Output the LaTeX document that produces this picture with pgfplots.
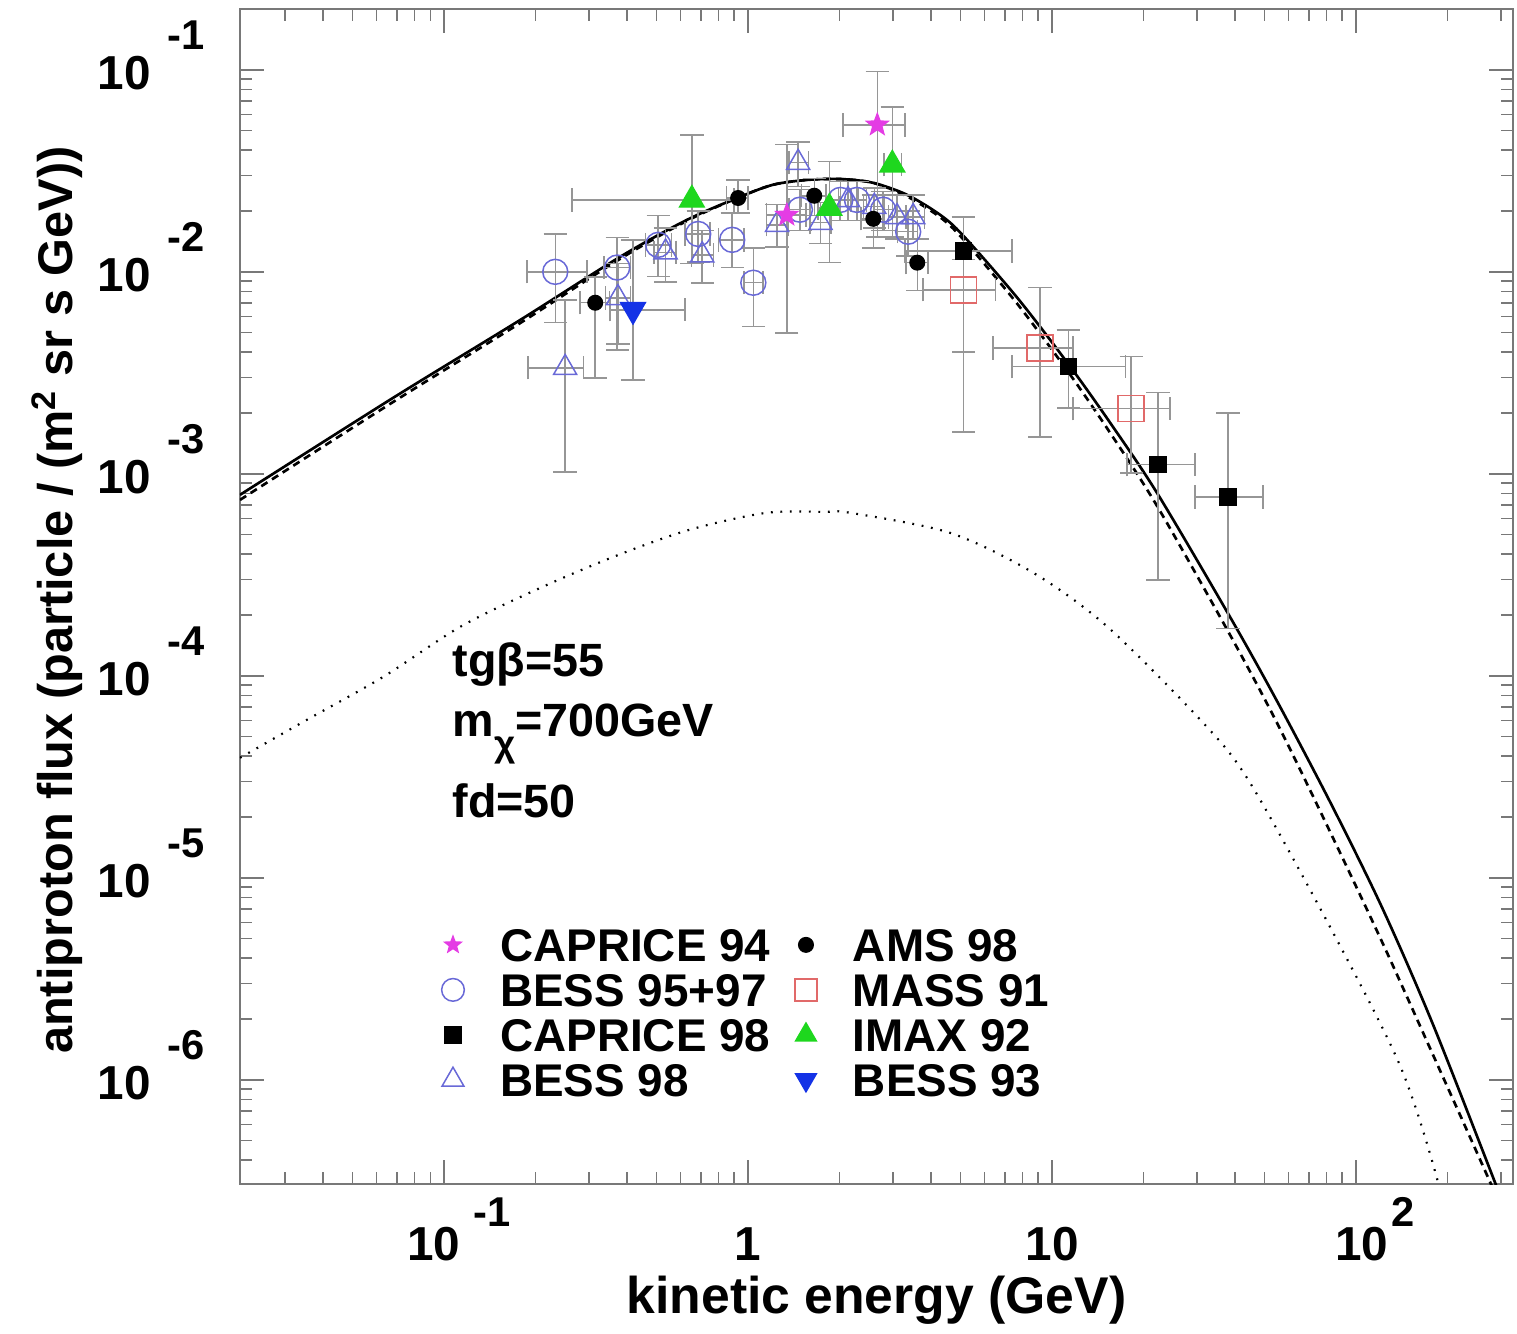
\documentclass[border=0pt]{standalone}
\usepackage{pgfplots}
\pgfplotsset{compat=1.18}
\usepackage{pgfplotstable}
\usepackage{fontspec}
\setmainfont{Liberation Sans}

\definecolor{cmag}{RGB}{228,60,228}
\definecolor{cbess}{RGB}{105,105,215}
\definecolor{cmass}{RGB}{225,105,105}
\definecolor{cgreen}{RGB}{30,215,30}
\definecolor{cblue}{RGB}{20,50,230}
\definecolor{cerr}{RGB}{150,150,150}
\definecolor{cframe}{RGB}{120,120,120}

\pgfdeclareplotmark{fstar}{%
\pgfpathmoveto{\pgfpointpolar{90}{1\pgfplotmarksize}}%
\pgfpathlineto{\pgfpointpolar{126}{0.42\pgfplotmarksize}}%
\pgfpathlineto{\pgfpointpolar{162}{1\pgfplotmarksize}}%
\pgfpathlineto{\pgfpointpolar{198}{0.42\pgfplotmarksize}}%
\pgfpathlineto{\pgfpointpolar{234}{1\pgfplotmarksize}}%
\pgfpathlineto{\pgfpointpolar{270}{0.42\pgfplotmarksize}}%
\pgfpathlineto{\pgfpointpolar{306}{1\pgfplotmarksize}}%
\pgfpathlineto{\pgfpointpolar{342}{0.42\pgfplotmarksize}}%
\pgfpathlineto{\pgfpointpolar{18}{1\pgfplotmarksize}}%
\pgfpathlineto{\pgfpointpolar{54}{0.42\pgfplotmarksize}}%
\pgfpathclose
\pgfusepathqfillstroke}

\newcommand\ylab[1]{\textbf{10}\hspace{5pt}\raisebox{12pt}{\fontsize{12.5}{12.5}\selectfont\textbf{#1}}}
\newcommand\xlab[1]{\hspace{9pt}\textbf{10}\hspace{4pt}\raisebox{10pt}{\fontsize{12.5}{12.5}\selectfont\textbf{#1}}}
\newcommand\xlabb[1]{\hspace{11.3pt}\textbf{10}\hspace{1pt}\raisebox{10pt}{\fontsize{12.5}{12.5}\selectfont\textbf{#1}}}

% curves
\pgfplotstableread{
x y
0.0213 7.87e-4
0.068 2.38e-3
0.178 5.78e-3
0.379 0.01186
0.630 0.0181
0.94 0.0235
1.21 0.0270
1.56 0.0285
2.01 0.0288
2.577 0.02758
3.334 0.02405
4.281 0.01915
5.096 0.01512
7.672 7.455e-3
11.29 3.504e-3
15.52 1.789e-3
22.33 7.87e-4
39.39 1.840e-4
56.23 7.02e-5
84.0 2.22e-5
122.7 6.94e-6
179.2 1.872e-6
290.9 2.92e-7
328.4 1.83e-7
}\tsolid
\pgfplotstableread{
x y
0.0213 7.43e-4
0.068 2.27e-3
0.178 5.58e-3
0.379 0.01159
0.630 0.0179
0.94 0.0235
1.21 0.0270
1.56 0.0285
2.01 0.0288
2.577 0.02758
3.334 0.02361
4.281 0.01863
5.096 0.01450
7.672 6.96e-3
11.29 3.196e-3
15.52 1.594e-3
22.33 6.78e-4
39.39 1.496e-4
56.23 5.45e-5
84.0 1.572e-5
122.7 4.69e-6
179.2 1.325e-6
290.9 2.60e-7
328.4 1.63e-7
}\tdashed
\pgfplotstableread{
x y
0.0213 3.93e-5
0.0353 6.05e-5
0.063 9.88e-5
0.113 1.75e-4
0.201 2.67e-4
0.360 3.88e-4
0.640 5.28e-4
1.146 6.41e-4
1.77 6.48e-4
2.17 6.41e-4
4.62 5.1e-4
8.66 3.24e-4
15.2 1.75e-4
31.4 5.85e-5
44.8 2.95e-5
84 5.35e-6
140 1.16e-6
185 3.2e-7
200 1.6e-7
}\tdotted

% data: x y xlo xhi ylo yhi
\pgfplotstableread{
x y xlo xhi ylo yhi
1.34 0.0191 1.15 1.55 0.00499 0.0426
2.66 0.0534 2.05 3.28 0.0149 0.098
}\tcapnf
\pgfplotstableread{
x y xlo xhi ylo yhi
0.232 0.0100 0.1875 0.295 0.0056 0.0154
0.371 0.0105 0.335 0.41 0.0041 0.0148
0.506 0.0136 0.46 0.56 0.0095 0.0190
0.685 0.0154 0.62 0.75 0.0112 0.0200
0.886 0.0144 0.80 0.97 0.0105 0.0195
1.04 0.00883 0.97 1.12 0.00535 0.0131
1.48 0.0203 1.36 1.60 0.0160 0.0255
2.01 0.0227 1.85 2.18 0.0180 0.0280
2.28 0.0227 2.18 2.45 0.0180 0.0280
2.78 0.0203 2.60 2.98 0.0160 0.0250
3.36 0.0158 3.10 3.60 0.0120 0.0200
}\tbessnf
\pgfplotstableread{
x y xlo xhi ylo yhi
5.10 0.0127 3.28 7.39 0.00161 0.0187
11.3 0.00339 7.39 17.4 0.00212 0.00516
22.3 0.00111 17.6 29.5 0.000298 0.00252
37.9 0.000769 29.5 49.4 0.000172 0.0020
}\tcapne
\pgfplotstableread{
x y xlo xhi ylo yhi
0.250 0.00335 0.189 0.287 0.00102 0.00727
0.373 0.00743 0.34 0.41 0.0044 0.0110
0.535 0.0125 0.49 0.58 0.0089 0.0165
0.706 0.0121 0.65 0.77 0.0088 0.0160
1.245 0.0171 1.15 1.35 0.0133 0.0215
1.46 0.0347 1.36 1.58 0.0265 0.0440
1.73 0.0175 1.60 1.87 0.0138 0.0220
2.13 0.0227 1.98 2.30 0.0180 0.0280
2.60 0.0210 2.40 2.80 0.0165 0.0260
3.09 0.0187 2.90 3.30 0.0145 0.0240
3.49 0.0187 3.30 3.80 0.0145 0.0240
}\tbessne
\pgfplotstableread{
x y xlo xhi ylo yhi
0.314 0.00703 0.28 0.35 0.00298 0.00944
0.927 0.0232 0.85 1.00 0.0195 0.0285
1.65 0.0238 1.50 1.80 0.0190 0.0290
2.58 0.0183 2.35 2.80 0.0131 0.0240
3.60 0.0111 3.30 3.90 0.0081 0.0145
}\tams
\pgfplotstableread{
x y xlo xhi ylo yhi
5.10 0.00815 3.76 6.50 0.0040 0.0115
9.13 0.0042 6.40 11.7 0.00152 0.00838
18.2 0.0021 11.7 24.4 0.00101 0.0038
}\tmass
\pgfplotstableread{
x y xlo xhi ylo yhi
0.653 0.0227 0.263 0.90 0.011 0.0477
1.85 0.0207 1.70 2.00 0.0111 0.0351
2.98 0.0339 2.80 3.20 0.0149 0.0656
}\timax
\pgfplotstableread{
x y xlo xhi ylo yhi
0.418 0.00649 0.351 0.62 0.00292 0.01439
}\tbesstt

\pgfplotsset{
  errs/.style={
    error bars/.cd, x dir=both, y dir=both, x explicit, y explicit,
    error bar style={cerr, line width=0.45pt},
    error mark options={rotate=90, cerr, mark size=3.5pt, line width=0.45pt}},
}
\newcommand\dataplot[2]{%
  \addplot[forget plot, only marks, #1, errs]
  table[x=x, y=y,
    x error plus expr=\thisrow{xhi}-\thisrow{x},
    x error minus expr=\thisrow{x}-\thisrow{xlo},
    y error plus expr=\thisrow{yhi}-\thisrow{y},
    y error minus expr=\thisrow{y}-\thisrow{ylo}] {#2};}

\begin{document}
\begin{tikzpicture}
\begin{axis}[
  scale only axis, width=381.9pt, height=352.5pt,
  xmode=log, ymode=log,
  xmin=0.0213, xmax=328, ymin=3.05e-7, ymax=0.2,
  axis line style={cframe, line width=0.5pt},
  tick style={cframe, line width=0.45pt},
  tick align=inside,
  major tick length=7.3pt, minor tick length=3.5pt,
  xtick={0.1,1,10,100},
  xticklabels={\xlab{-1},\textbf{1},\textbf{10},\xlabb{2}},
  minor xtick={0.03,0.04,0.05,0.06,0.07,0.08,0.09,0.2,0.3,0.4,0.5,0.6,0.7,0.8,0.9,2,3,4,5,6,7,8,9,20,30,40,50,60,70,80,90,200,300},
  ytick={1e-6,1e-5,1e-4,1e-3,1e-2,1e-1},
  yticklabels={\ylab{-6},\ylab{-5},\ylab{-4},\ylab{-3},\ylab{-2},\ylab{-1}},
  minor ytick={4e-7,5e-7,6e-7,7e-7,8e-7,9e-7,2e-6,3e-6,4e-6,5e-6,6e-6,7e-6,8e-6,9e-6,2e-5,3e-5,4e-5,5e-5,6e-5,7e-5,8e-5,9e-5,2e-4,3e-4,4e-4,5e-4,6e-4,7e-4,8e-4,9e-4,2e-3,3e-3,4e-3,5e-3,6e-3,7e-3,8e-3,9e-3,2e-2,3e-2,4e-2,5e-2,6e-2,7e-2,8e-2,9e-2},
  ticklabel style={font=\fontsize{14.3}{14.3}\selectfont\bfseries},
  xticklabel style={anchor=base, inner sep=0pt, yshift=-22.8pt},
  yticklabel style={anchor=base east, inner sep=0pt, xshift=-10.5pt, yshift=-6pt},
  xlabel={kinetic energy (GeV)},
  ylabel={antiproton flux (particle / (m\textsuperscript{2} sr s GeV))},
  xlabel style={font=\fontsize{15.5}{15.5}\selectfont\bfseries, at={(axis description cs:0.5,-0.1098)}, anchor=base},
  ylabel style={font=\fontsize{14.6}{14.6}\selectfont\bfseries, at={(axis description cs:-0.1312,0.497)}, anchor=base},
  legend columns=2,
  legend cell align=left,
  legend style={at={(axis description cs:0.1579,0.2180)}, anchor=north west,
    draw=none, fill=none, inner sep=0pt, row sep=3.7pt,
    font=\fontsize{13.75}{13.75}\selectfont\bfseries,
    nodes={inner sep=0pt, text height=9.8pt, text depth=0pt},
    /tikz/every odd column/.append style={column sep=10.8pt},
    /tikz/every even column/.append style={column sep=7.4pt}},
]
\addplot[forget plot, black, line width=0.8pt, smooth] table {\tsolid};
\addplot[forget plot, black, line width=0.8pt, smooth, dash pattern=on 2.2pt off 1.6pt] table {\tdashed};
\addplot[forget plot, black, line width=0.65pt, smooth, dash pattern=on 0.55pt off 2.3pt] table {\tdotted};

\dataplot{mark=o, mark size=3.75pt, mark options={draw=cbess, line width=0.45pt}}{\tbessnf}
\dataplot{mark=triangle, mark size=4pt, mark options={draw=cbess, line width=0.45pt}}{\tbessne}
\dataplot{mark=square, mark size=3.9pt, mark options={draw=cmass, line width=0.45pt}}{\tmass}
\dataplot{mark=square*, mark size=2.4pt, mark options={draw=black, fill=black}}{\tcapne}
\dataplot{mark=*, mark size=2.2pt, mark options={draw=black, fill=black}}{\tams}
\dataplot{mark=triangle*, mark size=4.3pt, mark options={draw=cgreen, fill=cgreen}}{\timax}
\dataplot{mark=triangle*, mark size=4.3pt, mark options={draw=cblue, fill=cblue, rotate=180}}{\tbesstt}
\dataplot{mark=fstar, mark size=3.4pt, mark options={draw=cmag, fill=cmag}}{\tcapnf}

\addlegendimage{only marks, mark=fstar, mark size=2.6pt, mark options={draw=cmag, fill=cmag}}
\addlegendentry{CAPRICE 94}
\addlegendimage{only marks, mark=*, mark size=2.2pt, mark options={draw=black, fill=black}}
\addlegendentry{AMS 98}
\addlegendimage{only marks, mark=o, mark size=3.4pt, mark options={draw=cbess, line width=0.45pt}}
\addlegendentry{BESS 95+97}
\addlegendimage{only marks, mark=square, mark size=3.3pt, mark options={draw=cmass, line width=0.45pt}}
\addlegendentry{MASS 91}
\addlegendimage{only marks, mark=square*, mark size=2.4pt, mark options={draw=black, fill=black}}
\addlegendentry{CAPRICE 98}
\addlegendimage{only marks, mark=triangle*, mark size=3.6pt, mark options={draw=cgreen, fill=cgreen}}
\addlegendentry{IMAX 92}
\addlegendimage{only marks, mark=triangle, mark size=3.8pt, mark options={draw=cbess, line width=0.45pt}}
\addlegendentry{BESS 98}
\addlegendimage{only marks, mark=triangle*, mark size=3.6pt, mark options={draw=cblue, fill=cblue, rotate=180}}
\addlegendentry{BESS 93}

\node[anchor=base west, inner sep=0pt, font=\fontsize{14}{14}\selectfont\bfseries] at (axis cs:0.106,9.89e-5) {tgβ=55};
\node[anchor=base west, inner sep=0pt, font=\fontsize{14}{14}\selectfont\bfseries] at (axis cs:0.106,4.99e-5) {m\raisebox{-6pt}{\fontsize{11}{11}\selectfont χ}=700GeV};
\node[anchor=base west, inner sep=0pt, font=\fontsize{14}{14}\selectfont\bfseries] at (axis cs:0.106,2.0e-5) {fd=50};
\end{axis}
\pgfresetboundingbox
\path (-72pt,-44.7pt) rectangle (383.1pt,355.2pt);
\end{tikzpicture}
\end{document}
